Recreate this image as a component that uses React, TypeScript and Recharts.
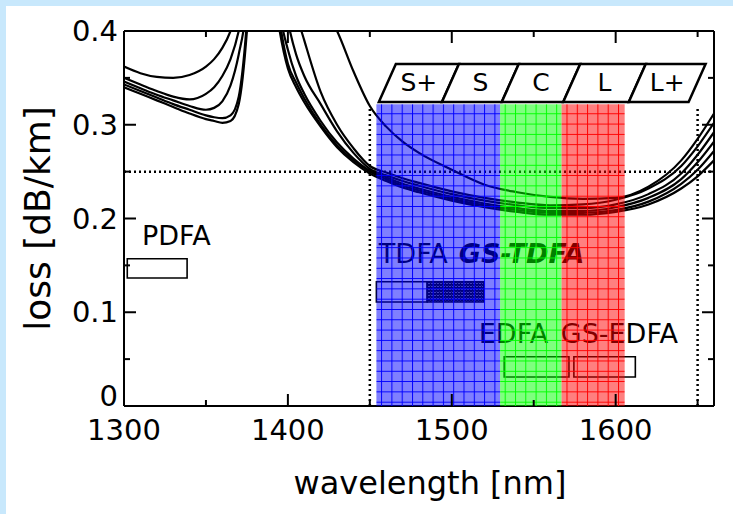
import React from 'react';
import {
  LineChart,
  Line,
  XAxis,
  YAxis,
  ReferenceArea,
  ReferenceLine,
  ReferenceDot,
  Label,
} from 'recharts';

// ---------- data ----------
const WAVELENGTHS = [1300, 1310, 1320, 1330, 1340, 1350, 1355, 1360, 1365, 1370, 1375, 1380, 1385, 1390, 1395, 1400, 1405, 1410, 1420, 1430, 1440, 1450, 1460, 1470, 1480, 1500, 1520, 1540, 1560, 1580, 1600, 1620, 1640, 1650, 1660];

const FIBER_1 = [0.340, 0.333, 0.326, 0.319, 0.312, 0.306, 0.304, 0.302, 0.304, 0.322, 0.40, 0.55, 0.60, 0.46, 0.40, 0.36, 0.34, 0.324, 0.298, 0.276, 0.260, 0.248, 0.240, 0.233, 0.228, 0.219, 0.212, 0.207, 0.204, 0.204, 0.207, 0.215, 0.232, 0.245, 0.262];
const FIBER_2 = [0.343, 0.336, 0.329, 0.322, 0.316, 0.310, 0.308, 0.307, 0.310, 0.33, 0.41, 0.56, 0.61, 0.48, 0.41, 0.365, 0.345, 0.328, 0.300, 0.278, 0.262, 0.250, 0.242, 0.235, 0.230, 0.221, 0.214, 0.209, 0.206, 0.206, 0.209, 0.218, 0.237, 0.252, 0.272];
const FIBER_3 = [0.346, 0.339, 0.332, 0.326, 0.320, 0.316, 0.318, 0.325, 0.342, 0.375, 0.43, 0.57, 0.62, 0.50, 0.42, 0.38, 0.352, 0.333, 0.304, 0.281, 0.264, 0.251, 0.244, 0.237, 0.232, 0.223, 0.216, 0.211, 0.208, 0.208, 0.212, 0.222, 0.242, 0.260, 0.282];
const FIBER_4 = [0.350, 0.343, 0.336, 0.330, 0.327, 0.333, 0.340, 0.352, 0.37, 0.40, 0.45, 0.58, 0.63, 0.55, 0.46, 0.41, 0.375, 0.352, 0.322, 0.293, 0.270, 0.253, 0.246, 0.240, 0.235, 0.226, 0.219, 0.214, 0.211, 0.211, 0.215, 0.226, 0.248, 0.268, 0.292];
const FIBER_5 = [0.362, 0.355, 0.351, 0.350, 0.353, 0.362, 0.370, 0.382, 0.40, 0.43, 0.48, 0.60, 0.65, 0.60, 0.52, 0.46, 0.42, 0.39, 0.335, 0.300, 0.275, 0.256, 0.249, 0.243, 0.238, 0.229, 0.222, 0.217, 0.214, 0.215, 0.220, 0.232, 0.256, 0.277, 0.302];
const FIBER_6 = [null, null, null, null, null, null, null, null, null, null, null, null, null, null, null, 0.52, 0.49, 0.465, 0.43, 0.40, 0.357, 0.32, 0.298, 0.282, 0.270, 0.252, 0.236, 0.228, 0.223, 0.221, 0.222, 0.234, 0.262, 0.285, 0.312];

const X_TICKS = [1300, 1350, 1400, 1450, 1500, 1550, 1600, 1650];
const X_MAJOR = [1300, 1400, 1500, 1600];
const Y_TICKS = [0, 0.05, 0.1, 0.15, 0.2, 0.25, 0.3, 0.35, 0.4];
const Y_MAJOR = [0, 0.1, 0.2, 0.3, 0.4];

// telecom band label boxes
const BAND_NAMES = ['S+', 'S', 'C', 'L', 'L+'];
const BAND_EDGES = [1455.5, 1494, 1530.5, 1568, 1608, 1644.5];
const BAND_BOX_LOSS = [0.3243, 0.3648];

// coloured amplifier windows
const WINDOW_EDGES = [1454, 1529.5, 1567, 1605.5];
const WINDOW_FILLS = ['url(#gridBlue)', 'url(#gridGreen)', 'url(#gridRed)'];
const WINDOW_TOP = 0.322;

// dotted guide lines
const GUIDE_LOSS = 0.25;
const GUIDE_WAVELENGTHS = [1450, 1650];
const GUIDE_TOP = 0.32;

// amplifier gain bands
const AMP_BOX_X1 = [1302, 1454, 1485, 1532, 1574.5];
const AMP_BOX_X2 = [1338.5, 1485, 1519.5, 1571.5, 1612];
const AMP_BOX_Y1 = [0.1365, 0.111, 0.111, 0.031, 0.031];
const AMP_BOX_Y2 = [0.157, 0.1325, 0.1325, 0.0525, 0.0525];
const AMP_BOX_HATCHED = [false, false, true, false, false];

const AMP_LABELS = ['PDFA', 'TDFA', 'GS-TDFA', 'EDFA', 'GS-EDFA'];
const AMP_LABEL_X = [1311, 1455.5, 1504.3, 1516.5, 1566.5];
const AMP_LABEL_Y = [0.1717, 0.1525, 0.1525, 0.0672, 0.0672];
const AMP_LABEL_BOLD = [false, false, true, false, false];

const data = WAVELENGTHS.map((w, i) => ({
  w,
  f1: FIBER_1[i],
  f2: FIBER_2[i],
  f3: FIBER_3[i],
  f4: FIBER_4[i],
  f5: FIBER_5[i],
  f6: FIBER_6[i],
}));

const FONT = 'DejaVu Sans';

const isMajorY = (v: number) => Y_MAJOR.some((m) => Math.abs(m - v) < 1e-6);

function BottomTick(props: any) {
  const { x, y, payload } = props;
  const major = X_MAJOR.includes(payload.value);
  return (
    <g>
      <line x1={x} y1={y} x2={x} y2={y - (major ? 12 : 6)} stroke="#000" strokeWidth={2} />
      {major && (
        <text x={x} y={y + 34} textAnchor="middle" fontFamily={FONT} fontSize={29} fill="#000">
          {payload.value}
        </text>
      )}
    </g>
  );
}

function TopTick(props: any) {
  const { x, y, payload } = props;
  const major = X_MAJOR.includes(payload.value);
  return <line x1={x} y1={y} x2={x} y2={y + (major ? 12 : 6)} stroke="#000" strokeWidth={2} />;
}

function LeftTick(props: any) {
  const { x, y, payload } = props;
  const major = isMajorY(payload.value);
  const v = payload.value;
  return (
    <g>
      <line x1={x} y1={y} x2={x + (major ? 12 : 6)} y2={y} stroke="#000" strokeWidth={2} />
      {major && (
        <text x={x - 6} y={y + (v === 0 ? 0 : 10)} textAnchor="end" fontFamily={FONT} fontSize={29} fill="#000">
          {v === 0 ? '0' : v.toFixed(1)}
        </text>
      )}
    </g>
  );
}

function RightTick(props: any) {
  const { x, y, payload } = props;
  const major = isMajorY(payload.value);
  return <line x1={x} y1={y} x2={x - (major ? 12 : 6)} y2={y} stroke="#000" strokeWidth={2} />;
}

function XTitle(props: any) {
  const vb = props.viewBox;
  return (
    <text x={vb.x + vb.width / 2 + 11} y={vb.y + 88} textAnchor="middle" fontFamily={FONT} fontSize={32} fill="#000">
      wavelength [nm]
    </text>
  );
}

function YTitle(props: any) {
  const vb = props.viewBox;
  const cx = vb.x + vb.width - 87;
  const cy = vb.y + vb.height / 2;
  return (
    <text
      x={cx}
      y={cy}
      transform={`rotate(-90 ${cx} ${cy})`}
      textAnchor="middle"
      dominantBaseline="central"
      fontFamily={FONT}
      fontSize={36}
      fill="#000"
    >
      loss [dB/km]
    </text>
  );
}

const SLANT = 17;

function makeBandBox(name: string) {
  return (p: any) => {
    const { x, y, width, height } = p;
    const pts = `${x},${y + height} ${x + SLANT},${y} ${x + width + SLANT},${y} ${x + width},${y + height}`;
    return (
      <g>
        <polygon points={pts} fill="#fff" stroke="#000" strokeWidth={2.5} strokeLinejoin="miter" />
        <text
          x={x + width / 2 + SLANT / 2}
          y={y + height / 2}
          textAnchor="middle"
          dominantBaseline="central"
          fontFamily={FONT}
          fontSize={25}
          fill="#000"
        >
          {name}
        </text>
      </g>
    );
  };
}

function makeLabel(text: string, bold: boolean) {
  return (p: any) => (
    <text
      x={p.cx}
      y={p.cy}
      textAnchor="start"
      fontFamily={FONT}
      fontSize={27}
      fontWeight={bold ? 'bold' : 'normal'}
      fontStyle={bold ? 'italic' : 'normal'}
      fill="#000"
    >
      {text}
    </text>
  );
}

function Patterns() {
  const s = 10.3;
  const grid = (id: string, color: string) => (
    <pattern id={id} width={s} height={s} patternUnits="userSpaceOnUse">
      <rect x={0} y={0} width={s} height={s} fill={color} fillOpacity={0.5} />
      <path d={`M0 0.5 H${s} M0.5 0 V${s}`} stroke={color} strokeWidth={1} />
    </pattern>
  );
  return (
    <svg width={0} height={0} style={{ position: 'absolute' }}>
      <defs>
        {grid('gridBlue', '#0000ff')}
        {grid('gridGreen', '#00ff00')}
        {grid('gridRed', '#ff0000')}
        <pattern id="hatch" width={3} height={3} patternUnits="userSpaceOnUse">
          <rect width={3} height={3} fill="#fff" />
          <path d="M0 0 L3 3 M3 0 L0 3" stroke="#000" strokeWidth={1.5} />
        </pattern>
      </defs>
    </svg>
  );
}

const SERIES = ['f1', 'f2', 'f3', 'f4', 'f5', 'f6'];

export default function App() {
  return (
    <div style={{ position: 'absolute', left: 0, top: 0, width: 733, height: 514, background: '#c8e8fc', overflow: 'hidden' }}>
      <div style={{ position: 'absolute', left: 6, top: 6, right: 0, bottom: 0, background: '#fff' }} />
      <Patterns />
      <div style={{ position: 'absolute', left: 0, top: 0 }}>
        <LineChart width={733} height={514} data={data} margin={{ top: 30, right: 18, bottom: 107, left: 123 }}>
          <XAxis
            dataKey="w"
            type="number"
            domain={[1300, 1660]}
            allowDataOverflow
            ticks={X_TICKS}
            interval={0}
            height={1}
            tickSize={0}
            tickMargin={0}
            tickLine={false}
            tick={BottomTick}
            axisLine={{ stroke: '#000', strokeWidth: 2 }}
            label={<Label content={XTitle} />}
          />
          <XAxis
            xAxisId="top"
            orientation="top"
            dataKey="w"
            type="number"
            domain={[1300, 1660]}
            allowDataOverflow
            ticks={X_TICKS}
            interval={0}
            height={1}
            tickSize={0}
            tickMargin={0}
            tickLine={false}
            tick={TopTick}
            axisLine={{ stroke: '#000', strokeWidth: 2 }}
          />
          <YAxis
            type="number"
            domain={[0, 0.4]}
            allowDataOverflow
            ticks={Y_TICKS}
            interval={0}
            width={1}
            tickSize={0}
            tickMargin={0}
            tickLine={false}
            tick={LeftTick}
            axisLine={{ stroke: '#000', strokeWidth: 2 }}
            label={<Label content={YTitle} />}
          />
          <YAxis
            yAxisId="right"
            orientation="right"
            type="number"
            domain={[0, 0.4]}
            allowDataOverflow
            ticks={Y_TICKS}
            interval={0}
            width={1}
            tickSize={0}
            tickMargin={0}
            tickLine={false}
            tick={RightTick}
            axisLine={{ stroke: '#000', strokeWidth: 2 }}
          />

          {SERIES.map((k) => (
            <Line
              key={k}
              dataKey={k}
              type="monotone"
              stroke="#000"
              strokeWidth={2.2}
              dot={false}
              activeDot={false}
              connectNulls={false}
              isAnimationActive={false}
            />
          ))}

          <ReferenceLine y={GUIDE_LOSS} stroke="#000" strokeWidth={2.5} strokeDasharray="2 3" />
          {GUIDE_WAVELENGTHS.map((g) => (
            <ReferenceLine
              key={g}
              segment={[{ x: g, y: 0 }, { x: g, y: GUIDE_TOP }]}
              stroke="#000"
              strokeWidth={2.5}
              strokeDasharray="2 3"
            />
          ))}

          {AMP_BOX_X1.map((x1, i) => (
            <ReferenceArea
              key={`amp${i}`}
              x1={x1}
              x2={AMP_BOX_X2[i]}
              y1={AMP_BOX_Y1[i]}
              y2={AMP_BOX_Y2[i]}
              fill={AMP_BOX_HATCHED[i] ? 'url(#hatch)' : '#fff'}
              fillOpacity={1}
              stroke="#000"
              strokeWidth={1.6}
            />
          ))}

          {AMP_LABELS.map((t, i) => (
            <ReferenceDot
              key={t}
              x={AMP_LABEL_X[i]}
              y={AMP_LABEL_Y[i]}
              r={0}
              shape={makeLabel(t, AMP_LABEL_BOLD[i])}
            />
          ))}

          {BAND_NAMES.map((n, i) => (
            <ReferenceArea
              key={n}
              x1={BAND_EDGES[i]}
              x2={BAND_EDGES[i + 1]}
              y1={BAND_BOX_LOSS[0]}
              y2={BAND_BOX_LOSS[1]}
              shape={makeBandBox(n)}
            />
          ))}

          {WINDOW_FILLS.map((f, i) => (
            <ReferenceArea
              key={f}
              x1={WINDOW_EDGES[i]}
              x2={WINDOW_EDGES[i + 1]}
              y1={0}
              y2={WINDOW_TOP}
              fill={f}
              fillOpacity={1}
              stroke="none"
              {...({ zIndex: 1500 } as any)}
            />
          ))}
        </LineChart>
      </div>
    </div>
  );
}
